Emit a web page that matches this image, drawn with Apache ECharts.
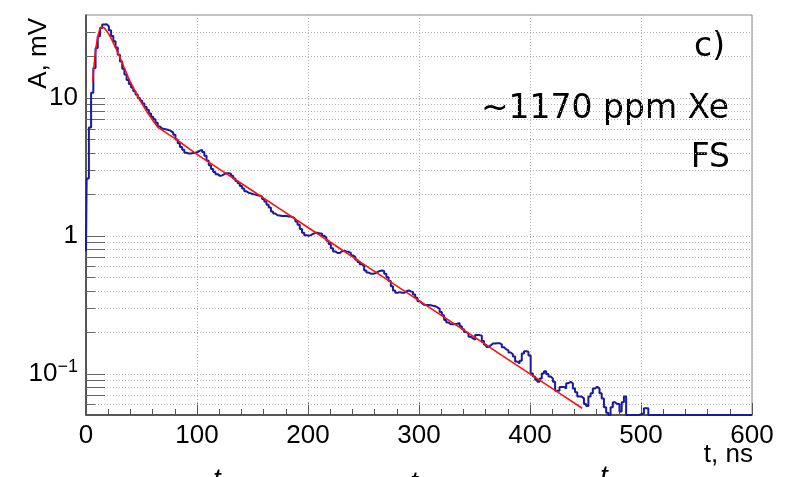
<!DOCTYPE html>
<html>
<head>
<meta charset="utf-8">
<script src="https://cdn.jsdelivr.net/npm/echarts@6/dist/echarts.min.js"></script>
<style>
  html, body { margin: 0; padding: 0; background: #ffffff; }
  #chart { width: 795px; height: 477px; }
</style>
</head>
<body>
<div id="chart"></div>
<script>
// Axis ranges
const X_MIN = 0, X_MAX = 600, X_STEP = 100, X_MINOR_SPLIT = 5;
const Y_MIN = 0.05, Y_MAX = 40;

// Logarithmic grid: decades get labels, the others are minor grid rows
const Y_DECADES = [0.1, 1, 10];
const Y_MINOR = [0.06, 0.07, 0.08, 0.09,
                 0.2, 0.3, 0.4, 0.5, 0.6, 0.7, 0.8, 0.9,
                 2, 3, 4, 5, 6, 7, 8, 9,
                 20, 30];

// Averaged waveform, histogram with 2 ns bins (first lower edge and bin width, ns)
const PULSE_START = -1.4;
const PULSE_BIN = 2;
const pulseAmp = [
  0.77, 2.6, 6.1, 10.9, 16.5, 23, 28, 32.2, 34.1, 34.3,
  33.2, 31, 28.2, 25.8, 23.2, 20.6, 18.4, 16.3, 14.8, 13.5,
  12.6, 11.9, 11.2, 10.6, 10.0, 9.6, 9.1, 8.6, 8.2, 7.7,
  7.3, 7.0, 6.6, 6.2, 6.0, 5.95, 5.9, 5.85, 5.75, 5.6,
  5.4, 5.0, 4.7, 4.4, 4.2, 4.0, 3.95, 3.95, 3.98, 4.0,
  4.05, 4.15, 4.2, 4.05, 3.8, 3.5, 3.25, 3.05, 2.9, 2.8,
  2.72, 2.74, 2.8, 2.84, 2.84, 2.82, 2.72, 2.6, 2.5, 2.4,
  2.3, 2.2, 2.1, 2.05, 2.03, 2.0, 1.99, 1.97, 1.95, 1.93,
  1.85, 1.77, 1.68, 1.6, 1.5, 1.45, 1.41, 1.4, 1.39, 1.39,
  1.39, 1.38, 1.38, 1.36, 1.32, 1.27, 1.2, 1.12, 1.05, 1.01,
  1.0, 1.01, 1.03, 1.05, 1.05, 1.04, 1.04, 1.0, 0.97, 0.92,
  0.87, 0.81, 0.77, 0.75, 0.75, 0.77, 0.78, 0.77, 0.765, 0.75,
  0.72, 0.70, 0.67, 0.645, 0.62, 0.6, 0.56, 0.54, 0.53, 0.53,
  0.535, 0.545, 0.555, 0.56, 0.555, 0.53, 0.5, 0.47, 0.43, 0.4,
  0.385, 0.39, 0.385, 0.385, 0.395, 0.4, 0.395, 0.39, 0.375, 0.355,
  0.335, 0.325, 0.315, 0.314, 0.314, 0.313, 0.31, 0.308, 0.302, 0.295,
  0.28, 0.265, 0.245, 0.235, 0.228, 0.228, 0.228, 0.23, 0.233, 0.22,
  0.21, 0.2, 0.195, 0.185, 0.18, 0.176, 0.19, 0.19, 0.188, 0.172,
  0.162, 0.156, 0.16, 0.165, 0.165, 0.166, 0.166, 0.163, 0.155, 0.15,
  0.147, 0.142, 0.138, 0.133, 0.122, 0.118, 0.124, 0.14, 0.145, 0.144,
  0.135, 0.1, 0.095, 0.09, 0.087, 0.092, 0.1, 0.104, 0.099, 0.095,
  0.092, 0.087, 0.075, 0.075, 0.08, 0.08, 0.078, 0.085, 0.087, 0.085,
  0.078, 0.073, 0.068, 0.068, 0.066, 0.06, 0.058, 0.068, 0.072, 0.078,
  0.08, 0.078, 0.072, 0.066, 0.057, 0.052, 0, 0.057, 0.062, 0.06,
  0.06, 0.053, 0.062, 0.068, 0, 0, 0, 0, 0, 0,
  0.051, 0.051, 0.056, 0.056, 0, 0, 0, 0, 0, 0,
  0, 0, 0, 0, 0, 0, 0, 0, 0, 0,
  0, 0, 0, 0, 0, 0, 0, 0, 0, 0,
  0, 0, 0, 0, 0, 0, 0, 0, 0, 0,
  0, 0, 0, 0, 0, 0, 0, 0, 0, 0,
  0
];

// Fitted curve, sampled (t in ns, amplitude in mV)
const fitT = [6, 7, 8, 9, 10, 11, 12, 13.5, 15, 16.5,
              18, 20, 22, 24, 26, 28, 30, 32, 34, 36,
              38, 40, 43, 46, 50, 55, 60, 65, 70, 75,
              80, 90, 100, 125, 150, 175, 200, 225, 250, 275,
              300, 325, 350, 375, 400, 425, 447];
const fitA = [13.2, 16.5, 20, 23.3, 26.3, 28.8, 30.8, 32.7, 32.8, 32.2,
              31.2, 29.5, 27.6, 25.7, 23.8, 21.9, 20.2, 18.5, 16.9, 15.5,
              14.2, 13.1, 11.7, 10.5, 9.2, 7.9, 6.9, 6.1, 5.75, 5.4,
              5.1, 4.45, 3.9, 2.87, 2.12, 1.56, 1.148, 0.846, 0.623, 0.459,
              0.338, 0.249, 0.1835, 0.135, 0.0995, 0.0733, 0.056];

// Panel annotations
const panelLabel = 'c)';
const sampleLabel = '~1170 ppm Xe';
const modeLabel = 'FS';
const xTitle = 't, ns';
const yTitle = 'A, mV';

// Histogram as a stepped polyline: each point is a bin's lower edge; empty bins sit on the floor
const histPoints = [];
pulseAmp.forEach((a, i) => {
  const t = Math.min(X_MAX, Math.max(X_MIN, PULSE_START + i * PULSE_BIN));
  histPoints.push([t, Math.max(a, Y_MIN)]);
});
histPoints.push([X_MAX, Math.max(pulseAmp[pulseAmp.length - 1], Y_MIN)]);

const fitPoints = fitT.map((t, i) => [t, fitA[i]]);

const gridRows = Y_DECADES.map(v => [X_MIN, v]).concat(Y_MINOR.map(v => [X_MIN, v]));

function mantissa(v) {
  const e = Math.floor(Math.log10(v) + 1e-9);
  return Math.round(v / Math.pow(10, e));
}

const AXIS_FONT = '"Liberation Sans", Arial, Helvetica, sans-serif';
const NOTE_FONT = '"DejaVu Sans", sans-serif';

const chart = echarts.init(document.getElementById('chart'), null, { renderer: 'canvas' });

chart.setOption({
  animation: false,
  backgroundColor: '#ffffff',
  grid: {
    left: 86, right: 43, top: 15, bottom: 62,
    show: true, borderColor: '#8a8a8a', borderWidth: 1, backgroundColor: 'transparent'
  },
  xAxis: {
    type: 'value',
    min: X_MIN, max: X_MAX, interval: X_STEP,
    axisLine: { show: true, onZero: false, lineStyle: { color: '#333333', width: 1.5 } },
    axisTick: { show: true, inside: true, length: 12, lineStyle: { color: '#555555', width: 1 } },
    minorTick: { show: true, splitNumber: X_MINOR_SPLIT, length: 6, lineStyle: { color: '#555555', width: 1 } },
    splitLine: { show: true, lineStyle: { color: '#b4b4b4', width: 1, type: [1, 2] } },
    axisLabel: {
      show: true, margin: 8, color: '#000000',
      fontFamily: AXIS_FONT, fontSize: 26,
      formatter: v => String(Math.round(v))
    }
  },
  yAxis: {
    type: 'log', logBase: 10,
    min: Y_MIN, max: Y_MAX,
    axisLine: { show: true, lineStyle: { color: '#333333', width: 1.5 } },
    axisTick: { show: false },
    splitLine: { show: false },
    axisLabel: {
      show: true, margin: 8, color: '#000000',
      fontFamily: AXIS_FONT, fontSize: 26,
      showMinLabel: true, showMaxLabel: true,
      formatter: v => {
        const e = Math.log10(v);
        if (Math.abs(e - Math.round(e)) > 1e-6) return '';
        const n = Math.round(e);
        if (n === 0) return '1';
        if (n === 1) return '10';
        return '{b|10}{s|\u2212' + (-n) + '}';
      },
      rich: {
        b: { fontFamily: AXIS_FONT, fontSize: 26, color: '#000000', lineHeight: 30 },
        s: { fontFamily: AXIS_FONT, fontSize: 18, color: '#000000', lineHeight: 18, verticalAlign: 'top' }
      }
    }
  },
  graphic: [
    {
      type: 'text', x: 39, y: 18, rotation: Math.PI / 2, silent: true,
      style: { text: yTitle, align: 'right', verticalAlign: 'middle', fill: '#000000',
               font: '26px ' + AXIS_FONT }
    },
    {
      type: 'text', x: 753, y: 455, silent: true,
      style: { text: xTitle, align: 'right', verticalAlign: 'middle', fill: '#000000',
               font: '26px ' + AXIS_FONT }
    },
    {
      type: 'text', x: 725, y: 47, silent: true,
      style: { text: panelLabel, align: 'right', verticalAlign: 'middle', fill: '#000000',
               font: '33px ' + NOTE_FONT }
    },
    {
      type: 'text', x: 729, y: 109, silent: true,
      style: { text: sampleLabel, align: 'right', verticalAlign: 'middle', fill: '#000000',
               font: '33px ' + NOTE_FONT }
    },
    {
      type: 'text', x: 730, y: 158, silent: true,
      style: { text: modeLabel, align: 'right', verticalAlign: 'middle', fill: '#000000',
               font: '33px ' + NOTE_FONT }
    },
    // tops of the neighbouring panel's axis symbols, cut by the lower edge
    {
      type: 'text', x: 217, y: 480, silent: true,
      style: { text: 't', align: 'center', verticalAlign: 'middle', fill: '#000000',
               font: 'italic 28px ' + AXIS_FONT }
    },
    {
      type: 'text', x: 414, y: 483, silent: true,
      style: { text: 't', align: 'center', verticalAlign: 'middle', fill: '#000000',
               font: 'italic 28px ' + AXIS_FONT }
    },
    {
      type: 'text', x: 604, y: 477, silent: true,
      style: { text: 't', align: 'center', verticalAlign: 'middle', fill: '#000000',
               font: 'italic 28px ' + AXIS_FONT }
    }
  ],
  series: [
    {
      // log grid rows and their ticks on the amplitude axis
      type: 'custom',
      silent: true,
      z: 1,
      clip: false,
      data: gridRows,
      renderItem: (params, api) => {
        const cs = params.coordSys;
        const v = api.value(1);
        const y = Math.round(api.coord([X_MIN, v])[1]) + 0.5;
        const m = mantissa(v);
        const len = (m === 1 || m >= 7) ? 19 : 9;
        return {
          type: 'group',
          children: [
            { type: 'line', shape: { x1: cs.x, y1: y, x2: cs.x + cs.width, y2: y },
              style: { stroke: '#b4b4b4', lineWidth: 1, lineDash: [1, 2] } },
            { type: 'line', shape: { x1: cs.x, y1: y, x2: cs.x + len, y2: y },
              style: { stroke: '#666666', lineWidth: 1 } }
          ]
        };
      }
    },
    {
      name: 'pulse',
      type: 'line',
      step: 'end',
      data: histPoints,
      showSymbol: false,
      clip: false,
      z: 3,
      lineStyle: { color: '#1a1a9c', width: 2 },
      itemStyle: { color: '#1a1a9c' }
    },
    {
      name: 'fit',
      type: 'line',
      data: fitPoints,
      showSymbol: false,
      smooth: false,
      z: 4,
      lineStyle: { color: '#ff1010', width: 1.6 },
      itemStyle: { color: '#ff1010' }
    }
  ]
});
</script>
</body>
</html>
